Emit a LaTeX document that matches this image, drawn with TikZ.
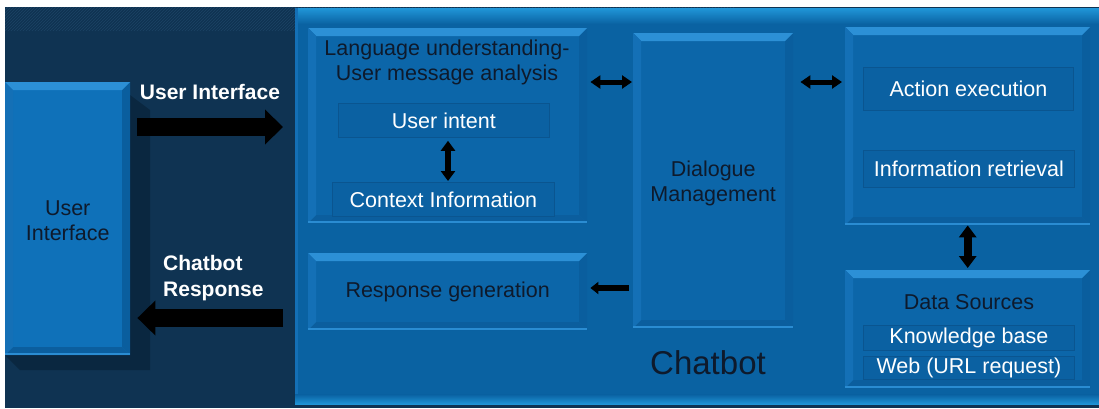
\documentclass[tikz,border=0pt]{standalone}
\usepackage{fontspec}
\setmainfont{Liberation Sans}
\usetikzlibrary{arrows.meta,patterns,calc}
\definecolor{bgnavy}{HTML}{0F3352}
\definecolor{hatch}{HTML}{1C4465}
\definecolor{shadow}{HTML}{0A2740}
\definecolor{cbfill}{HTML}{0A62A2}
\definecolor{cbtop}{HTML}{2096D8}
\definecolor{boxfill}{HTML}{0C66A9}
\definecolor{bevtop}{HTML}{2C90D6}
\definecolor{bevleft}{HTML}{1470B6}
\definecolor{bevright}{HTML}{0A5E9E}
\definecolor{bevbot}{HTML}{0B5E9E}
\definecolor{bevline}{HTML}{2A8CD2}
\definecolor{uifill}{HTML}{0F71B9}
\definecolor{innerfill}{HTML}{0B61A2}
\definecolor{innerline}{HTML}{0A5590}
\definecolor{darktext}{HTML}{0E1A2C}
\tikzset{
  bevel/.style={draw=none, fill=boxfill, inner sep=0pt, anchor=north west,
    path picture={
      \fill[bevtop] (path picture bounding box.north west) -- (path picture bounding box.north east)
        -- ([shift={(-8pt,-8pt)}]path picture bounding box.north east) -- ([shift={(8pt,-8pt)}]path picture bounding box.north west) -- cycle;
      \fill[bevleft] (path picture bounding box.north west) -- ([shift={(8pt,-8pt)}]path picture bounding box.north west)
        -- ([shift={(8pt,8pt)}]path picture bounding box.south west) -- (path picture bounding box.south west) -- cycle;
      \fill[bevright] (path picture bounding box.north east) -- ([shift={(-8pt,-8pt)}]path picture bounding box.north east)
        -- ([shift={(-8pt,8pt)}]path picture bounding box.south east) -- (path picture bounding box.south east) -- cycle;
      \fill[bevbot] (path picture bounding box.south west) -- ([shift={(8pt,8pt)}]path picture bounding box.south west)
        -- ([shift={(-8pt,8pt)}]path picture bounding box.south east) -- (path picture bounding box.south east) -- cycle;
      \fill[bevline] (path picture bounding box.south west) rectangle ([yshift=2pt]path picture bounding box.south east);
    }},
  uibox/.style={bevel, fill=uifill},
  innerbox/.style={draw=innerline, line width=0.8pt, fill=innerfill, inner sep=0pt, anchor=north west,
    text=white, font=\fontsize{21.5}{25}\selectfont},
  innertext/.style={text=white, font=\fontsize{21.5}{25}\selectfont, inner sep=0pt},
  darklabel/.style={text=darktext, font=\fontsize{21.5}{25}\selectfont, align=center, inner sep=0pt},
  whitelabel/.style={text=white, font=\bfseries\fontsize{21}{26}\selectfont, align=left, inner sep=0pt},
  bigarrow/.style={line width=18pt, black, -{Triangle[width=34pt,length=18pt]}},
  smalldbl/.style={line width=5pt, black, {Triangle[width=13pt,length=10pt]}-{Triangle[width=13pt,length=10pt]}},
  vdbl/.style={line width=6pt, black, {Triangle[width=14pt,length=10pt]}-{Triangle[width=14pt,length=10pt]}},
  vdblbig/.style={line width=8pt, black, {Triangle[width=17pt,length=12pt]}-{Triangle[width=17pt,length=12pt]}},
  smallarrow/.style={line width=6pt, black, -{Triangle[width=12pt,length=8pt]}},
}
\begin{document}
\begin{tikzpicture}[x=1pt,y=-1pt]
\useasboundingbox (0,0) rectangle (1099,408);
\fill[white] (0,0) rectangle (1099,408);
% background
\fill[bgnavy] (5,7) rectangle (1099,408);
\fill[pattern=north east lines, pattern color=hatch] (5,7) rectangle (295,30);
\fill[pattern=north east lines, pattern color=hatch] (295,7) rectangle (735,9);
% shadow of the user interface box
\fill[shadow] (130,95) -- (150,110) -- (150,370) -- (20,370) -- (5,355) -- (130,355) -- cycle;
% chatbot container
\node[draw=none, fill=cbfill, inner sep=0pt, anchor=north west, minimum width=804pt, minimum height=396pt] (chatbot) at (295,8) {};
\shade[top color=cbtop, bottom color=cbfill] (chatbot.north west) rectangle ([yshift=-16pt]chatbot.north east);
\fill[bevleft] (chatbot.north west) rectangle ([xshift=3pt]chatbot.south west);
\shade[top color=cbfill, bottom color=cbtop] ([yshift=10pt]chatbot.south west) rectangle (chatbot.south east);
\node[text=darktext, font=\fontsize{33}{36}\selectfont, inner sep=0pt] (cbtitle) at (708,363) {Chatbot};

% user interface box
\node[uibox, minimum width=125pt, minimum height=273pt] (ui) at (5,82) {};
\node[darklabel] (uitext) at ([yshift=-2pt]ui.center) {User\\Interface};

% language understanding
\node[bevel, minimum width=279pt, minimum height=195pt] (lang) at (308,28) {};
\node[darklabel] (langtext) at (447,62) {Language understanding-\\User message analysis};
\node[innerbox, minimum width=211pt, minimum height=34pt] (intent) at (338,103) {};
\node[innertext] at (intent.center) {User intent};
\node[innerbox, minimum width=222pt, minimum height=34pt] (context) at (332,182) {};
\node[innertext] at (context.center) {Context Information};

% response generation
\node[bevel, minimum width=279pt, minimum height=77pt] (resp) at (308,253) {};
\node[darklabel] (resptext) at (resp.center) {Response generation};

% dialogue management
\node[bevel, minimum width=160pt, minimum height=295pt] (dm) at (633,33) {};
\node[darklabel] (dmtext) at ([yshift=-3pt]dm.center) {Dialogue\\Management};

% action box
\node[bevel, minimum width=245pt, minimum height=198pt] (action) at (845,27) {};
\node[innerbox, minimum width=210pt, minimum height=43pt] (exec) at (863,67) {};
\node[innertext] at (exec.center) {Action execution};
\node[innerbox, minimum width=211pt, minimum height=37pt] (info) at (863,150) {};
\node[innertext] at (info.center) {Information retrieval};

% data sources
\node[bevel, minimum width=245pt, minimum height=118pt] (data) at (845,270) {};
\node[darklabel] (datatext) at (969,302) {Data Sources};
\node[innerbox, minimum width=211pt, minimum height=25pt] (kb) at (863,325) {};
\node[innertext] at (kb.center) {Knowledge base};
\node[innerbox, minimum width=211pt, minimum height=23pt] (web) at (863,356) {};
\node[innertext] at (web.center) {Web (URL request)};

% left labels
\node[whitelabel, anchor=center] (uilabel) at (210,92) {User Interface};
\node[whitelabel, anchor=west] (crlabel) at (163,278) {Chatbot\\Response};

% connectors
\coordinate (ya) at (0,127);
\coordinate (yb) at (0,318);
\coordinate (yc) at (0,82);
\coordinate (yd) at (0,288);
\coordinate (xa) at (448,0);
\draw[bigarrow] ([xshift=7pt]ui.east |- ya) -- ([xshift=-12pt]chatbot.west |- ya);
\draw[bigarrow] ([xshift=-12pt]chatbot.west |- yb) -- ([xshift=7pt]ui.east |- yb);
\draw[smalldbl] ([xshift=3pt]lang.east |- yc) -- ([xshift=-1pt]dm.west |- yc);
\draw[smalldbl] ([xshift=7pt]dm.east |- yc) -- ([xshift=-3pt]action.west |- yc);
\draw[vdbl] ([yshift=-3pt]intent.south -| xa) -- ([yshift=1pt]context.north -| xa);
\draw[vdblbig] (action.south) -- ([yshift=2pt]data.north);
\draw[smallarrow] ([xshift=-4pt]dm.west |- yd) -- ([xshift=3pt]resp.east |- yd);
\end{tikzpicture}
\end{document}
